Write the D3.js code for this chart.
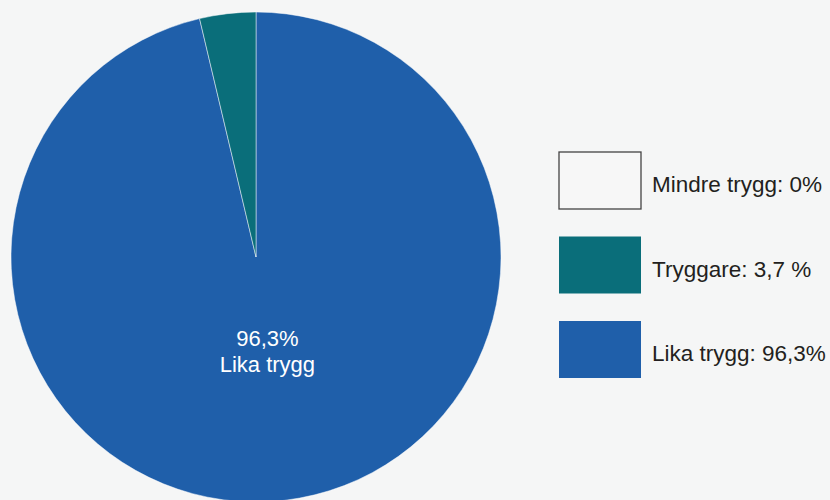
<!DOCTYPE html>
<html>
<head>
<meta charset="utf-8">
<script src="https://cdn.jsdelivr.net/npm/d3@7"></script>
<style>
  body { margin: 0; background: #f5f6f6; }
  svg { display: block; font-family: "Liberation Sans", Arial, sans-serif; }
</style>
</head>
<body>
<svg width="830" height="500"></svg>
<script>
// categories and values (percent)
var categories = ["Mindre trygg", "Tryggare", "Lika trygg"];
var values = [0, 3.7, 96.3];
var legendLabels = ["Mindre trygg: 0%", "Tryggare: 3,7 %", "Lika trygg: 96,3%"];
var sliceLabels = ["", "", "96,3%|Lika trygg"];
var colors = ["#f7f7f7", "#0a6e7a", "#1f5faa"];

var svg = d3.select("svg"),
    width = +svg.attr("width"),
    height = +svg.attr("height");

svg.append("rect").attr("width", width).attr("height", height).attr("fill", "#f5f6f6");

var data = categories.map(function(c, i) {
  return { name: c, value: values[i], color: colors[i], label: sliceLabels[i] };
});

// pie drawn clockwise from top: largest first, then smaller
var pie = d3.pie()
    .sort(null)
    .value(function(d) { return d.value; });

var r = 245;
var arc = d3.arc().innerRadius(0).outerRadius(r);
var labelArc = d3.arc().innerRadius(r * 0.4).outerRadius(r * 0.4);

var g = svg.append("g").attr("transform", "translate(256,257)");

var arcs = pie(data.slice().reverse());

g.selectAll("path")
  .data(arcs)
  .enter().append("path")
  .attr("d", arc)
  .attr("fill", function(d) { return d.data.color; })
  .attr("stroke", function(d) { return d.data.value > 0 ? "#ffffff" : "none"; })
  .attr("stroke-opacity", 0.6)
  .attr("stroke-width", 0.8);

// slice label
arcs.filter(function(d) { return d.data.label; }).forEach(function(d) {
  var c = labelArc.centroid(d);
  var lines = d.data.label.split("|");
  var t = g.append("text")
    .attr("text-anchor", "middle")
    .attr("fill", "#ffffff")
    .attr("font-size", 22)
    .attr("transform", "translate(" + c[0] + "," + (c[1] - 8) + ")");
  lines.forEach(function(l, i) {
    t.append("tspan").attr("x", 0).attr("y", i * 26).text(l);
  });
});

// legend
var ly = d3.scalePoint().domain(categories).range([152, 321]);

var legend = svg.append("g").selectAll("g")
  .data(data)
  .enter().append("g")
  .attr("transform", function(d) { return "translate(559," + ly(d.name) + ")"; });

legend.append("rect")
  .attr("width", 82)
  .attr("height", 57)
  .attr("fill", function(d) { return d.color; })
  .attr("stroke", function(d) { return d.value === 0 ? "#444444" : "none"; })
  .attr("stroke-width", 1.3);

legend.append("text")
  .attr("x", 93)
  .attr("y", 40)
  .attr("font-size", 22.5)
  .attr("fill", "#231f20")
  .text(function(d, i) { return legendLabels[i]; });
</script>
</body>
</html>
